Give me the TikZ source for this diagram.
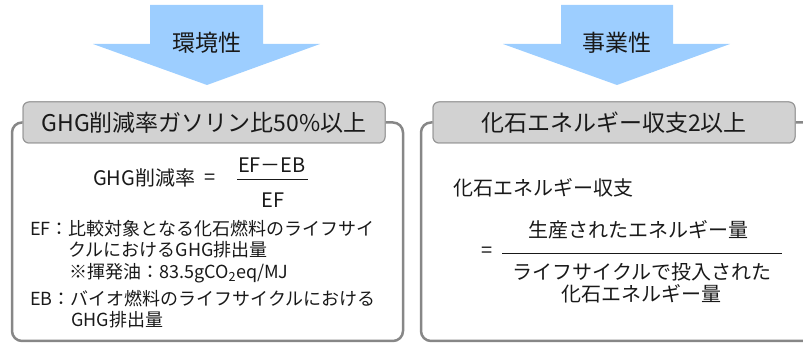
\documentclass[tikz,border=0pt]{standalone}
\usepackage{fontspec}
\setmainfont{Noto Sans CJK JP}
\definecolor{arrowblue}{RGB}{157,206,255}
\definecolor{boxfill}{RGB}{210,210,210}
\definecolor{boxedge}{RGB}{150,150,150}
\definecolor{framegray}{RGB}{135,135,135}
\definecolor{textcol}{RGB}{25,25,25}
\tikzset{
  arrowshape/.style={fill=arrowblue, draw=none},
  titlebox/.style={draw=boxedge, fill=boxfill, rounded corners=6pt, line width=1pt,
    minimum width=362pt, minimum height=41pt, inner sep=0pt, text=textcol,
    font=\fontsize{23}{23}\selectfont},
  frameline/.style={draw=framegray, line width=2.5pt, rounded corners=10pt},
  arrowlabel/.style={inner sep=0pt, text=textcol, font=\fontsize{23}{23}\selectfont},
  txtS/.style={inner sep=0pt, text=textcol, font=\fontsize{18}{18}\selectfont},
  txtM/.style={inner sep=0pt, text=textcol, font=\fontsize{20}{20}\selectfont},
  fracline/.style={draw=textcol, line width=0.9pt}
}
\begin{document}
\begin{tikzpicture}[x=1pt,y=-1pt]
\useasboundingbox (0,0) rectangle (803,344);

% block arrows
\path[arrowshape] (150,5) -- (263,5) -- (263,44) -- (320,44) -- (207,85) -- (93,44) -- (150,44) -- cycle;
\node[arrowlabel] (lab1) at (207,43) {環境性};
\path[arrowshape] (561,5) -- (673,5) -- (673,44) -- (730,44) -- (617,85) -- (503,44) -- (561,44) -- cycle;
\node[arrowlabel] (lab2) at (617,43) {事業性};

% title boxes (positions)
\coordinate (t1c) at (204,122.5);
\coordinate (t2c) at (614,122.5);

% frames
\coordinate (f1a) at (12,122.5);
\coordinate (f1b) at (12,341);
\coordinate (f1c) at (403,341);
\coordinate (f1d) at (403,122.5);
\coordinate (f2a) at (421,122.5);
\coordinate (f2b) at (421,341);
\coordinate (f2c) at (830,341);
\coordinate (f2d) at (830,122.5);

\node[titlebox] (t1) at (t1c) {GHG削減率ガソリン比50\%以上};
\node[titlebox] (t2) at (t2c) {化石エネルギー収支2以上};

\draw[frameline] (t1.west) -- (f1a) -- (f1b) -- (f1c) -- (f1d) -- (t1.east);
\draw[frameline] (t2.west) -- (f2a) -- (f2b) -- (f2c) -- (f2d) -- (t2.east);

% redraw boxes on top
\node[titlebox] at (t1c) {GHG削減率ガソリン比50\%以上};
\node[titlebox] at (t2c) {化石エネルギー収支2以上};

% left content
\node[txtM, anchor=west] (ghg) at (93,178) {GHG削減率};
\node[txtM] (eq1) at (210,179) {=};
\node[txtM] (num1) at (272,165) {EF－EB};
\node[txtM] (den1) at (273,200) {EF};
\coordinate (fl1a) at (237,179.5);
\coordinate (fl1b) at (308,179.5);
\draw[fracline] (fl1a) -- (fl1b);

\node[txtS, anchor=west] (ef1) at (30,229) {EF：比較対象となる化石燃料のライフサイ};
\node[txtS, anchor=west] (ef2) at (68,250) {クルにおけるGHG排出量};
\node[txtS, anchor=west] (ef3) at (69,273) {※揮発油：83.5gCO\textsubscript{2}eq/MJ};
\node[txtS, anchor=west] (eb1) at (30,299) {EB：バイオ燃料のライフサイクルにおける};
\node[txtS, anchor=west] (eb2) at (71,320) {GHG排出量};

% right content
\node[txtM, anchor=west] (fe) at (453,188) {化石エネルギー収支};
\node[txtM] (eq2) at (487,252) {=};
\node[txtM] (num2) at (638,230) {生産されたエネルギー量};
\coordinate (fl2a) at (502,253);
\coordinate (fl2b) at (782,253);
\draw[fracline] (fl2a) -- (fl2b);
\node[txtM] (den2a) at (642,272) {ライフサイクルで投入された};
\node[txtM] (den2b) at (641,294) {化石エネルギー量};
\end{tikzpicture}
\end{document}
